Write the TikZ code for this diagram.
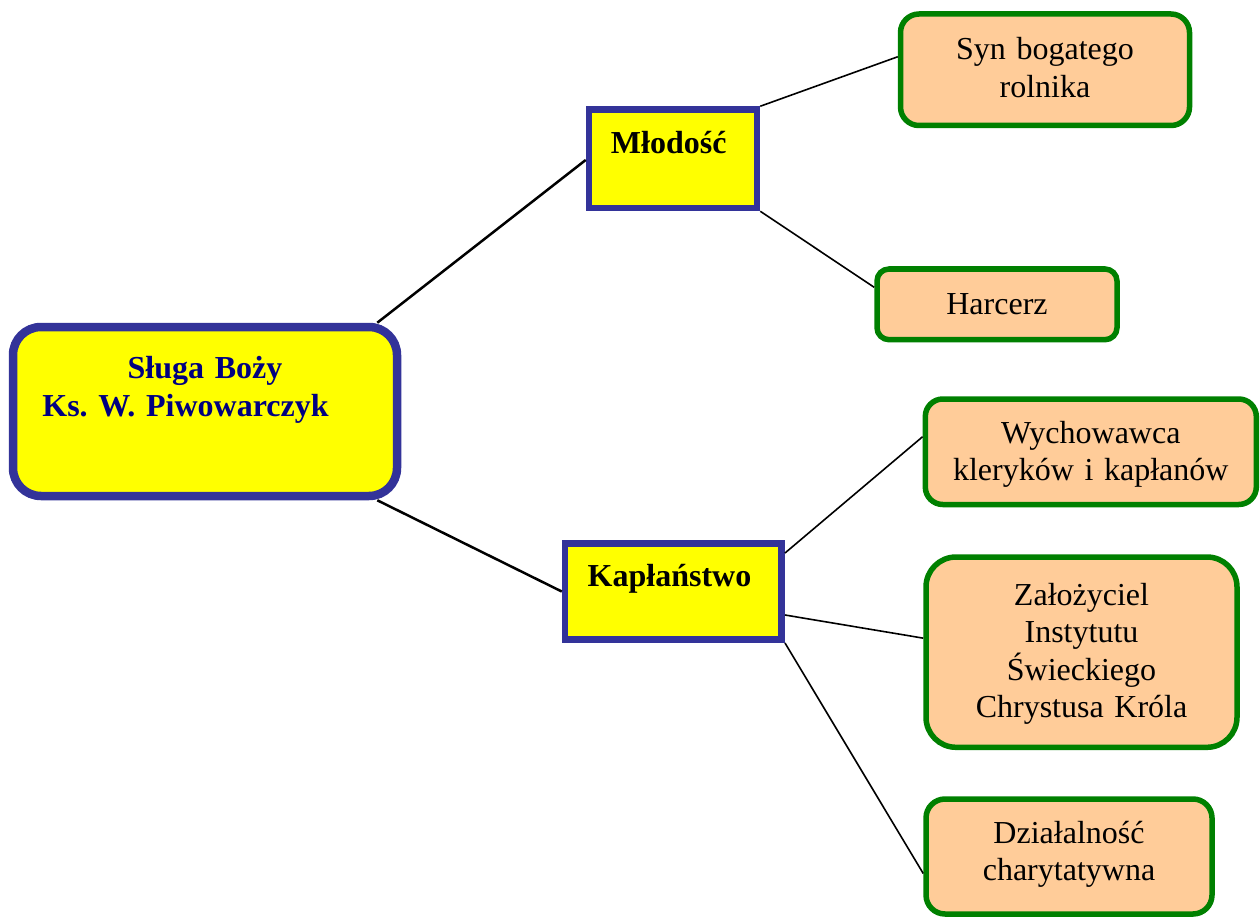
\documentclass[tikz,border=0pt]{standalone}
\usepackage{fontspec}
\setmainfont{Liberation Serif}
\usetikzlibrary{calc}
\definecolor{boxblue}{RGB}{51,51,153}
\definecolor{boxyellow}{RGB}{255,255,0}
\definecolor{leafgreen}{RGB}{0,128,0}
\definecolor{leafpeach}{RGB}{255,204,153}
\definecolor{rootnavy}{RGB}{0,0,128}
\frenchspacing
\begin{document}
\begin{tikzpicture}[x=1pt,y=-1pt,
  rootbox/.style={draw=boxblue, fill=boxyellow, line width=8.5pt, rounded corners=28pt, inner sep=0pt, minimum width=384pt, minimum height=169pt},
  yellowbox/.style={draw=boxblue, fill=boxyellow, line width=6.5pt, inner sep=0pt},
  leafbox/.style={draw=leafgreen, fill=leafpeach, line width=5.5pt, inner sep=0pt},
  boldtext/.style={font=\fontsize{32pt}{38pt}\selectfont\bfseries, inner sep=0pt, anchor=base, align=center},
  leaftext/.style={font=\fontsize{32pt}{37.5pt}\selectfont, inner sep=0pt, anchor=base, align=center, text width=330pt},
  mainlink/.style={draw=black, line width=2.5pt},
  sublink/.style={draw=black, line width=1.6pt}
]
\useasboundingbox (0,0) rectangle (1260,917);

% boxes
\node[rootbox] (root) at (205,411.5) {};
\node[yellowbox, minimum width=168pt, minimum height=98.5pt] (mlo) at (673,158.75) {};
\node[yellowbox, minimum width=216.7pt, minimum height=96.4pt] (kap) at (673.35,591.5) {};
\node[leafbox, rounded corners=18.5pt, minimum width=289pt, minimum height=111.5pt] (syn) at (1045,69.75) {};
\node[leafbox, rounded corners=12pt, minimum width=240pt, minimum height=70.7pt] (har) at (997,304.35) {};
\node[leafbox, rounded corners=17.5pt, minimum width=331pt, minimum height=105.5pt] (wych) at (1090.8,451.75) {};
\node[leafbox, rounded corners=30pt, minimum width=311pt, minimum height=190.3pt] (zal) at (1081.5,652.15) {};
\node[leafbox, rounded corners=19pt, minimum width=286pt, minimum height=115pt] (dzi) at (1069,856.5) {};

% texts
\node[boldtext, text width=384pt, text=rootnavy] (roottxt) at (205,378) {Sługa Boży\hspace*{11pt}\\Ks. W. Piwowarczyk\hspace*{39pt}};
\node[boldtext] (mlotxt) at (668.7,153.3) {Młodość};
\node[boldtext] (kaptxt) at (669.5,586.7) {Kapłaństwo};
\node[leaftext] (syntxt) at (1045,60) {Syn bogatego\\rolnika};
\node[leaftext] (hartxt) at (997,314) {Harcerz};
\node[leaftext] (wychtxt) at (1090.8,443.3) {Wychowawca\\kleryków i kapłanów};
\node[leaftext] (zaltxt) at (1081.5,605) {Założyciel\\Instytutu\\Świeckiego\\Chrystusa Króla};
\node[leaftext] (dzitxt) at (1069,843.3) {Działalność\\charytatywna};

% connectors
\draw[mainlink] ($(root.north east)+(-24,0)$) -- ($(mlo.west)+(0,1.2)$);
\draw[mainlink] ($(root.south east)+(-24,0)$) -- (kap.west);
\draw[sublink] (mlo.north east) -- ($(syn.west)+(0,-13)$);
\draw[sublink] (mlo.south east) -- ($(har.west)+(0,-17)$);
\draw[sublink] ($(kap.north east)+(0,13)$) -- ($(wych.west)+(0,-15)$);
\draw[sublink] ($(kap.east)+(0,23.5)$) -- ($(zal.west)+(0,-14)$);
\draw[sublink] (kap.south east) -- ($(dzi.west)+(0,17)$);
\end{tikzpicture}
\end{document}
